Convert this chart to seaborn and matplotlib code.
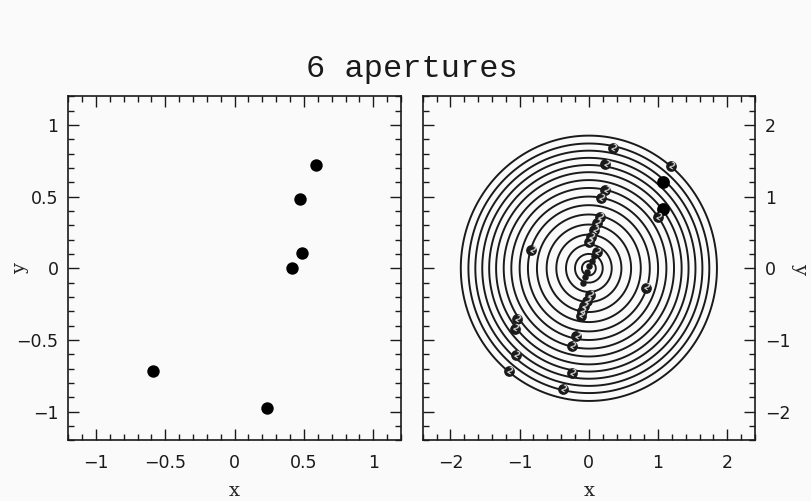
import numpy as np
import pandas as pd
import matplotlib
matplotlib.use("Agg")
import matplotlib.pyplot as plt
from matplotlib.ticker import MultipleLocator, FixedLocator, FixedFormatter
import seaborn as sns

# ---- data -------------------------------------------------------------
# aperture centres (left panel)
ap_x = [0.585, 0.473, 0.483, 0.415, -0.592, 0.234]
ap_y = [0.717, 0.486, 0.107, 0.0, -0.719, -0.974]

# contour levels of the radial map (right panel)
ring_radii = [0.10, 0.20, 0.33, 0.47, 0.61, 0.75, 0.88, 1.00, 1.12,
              1.23, 1.34, 1.44, 1.54, 1.64, 1.74, 1.85]

# contour label positions
lab_x = [0.35, 0.24, 1.18, 1.00, 0.24, 0.18, 0.16, 0.12, 0.08, 0.03, 0.00,
         -0.83, 0.12, 0.82, 0.01, -0.03, -0.07, -0.10, -0.12, -1.04, -1.07,
         -0.18, -0.25, -1.05, -1.16, -0.24, -0.38]
lab_y = [1.68, 1.45, 1.43, 0.72, 1.09, 0.98, 0.72, 0.63, 0.53, 0.44, 0.36,
         0.25, 0.23, -0.27, -0.37, -0.46, -0.53, -0.60, -0.66, -0.71, -0.84,
         -0.95, -1.09, -1.21, -1.43, -1.46, -1.69]
core_x = [0.07, 0.04, 0.00, -0.03, -0.06, -0.09]
core_y = [0.17, 0.10, 0.03, -0.05, -0.12, -0.20]
lab_text = "2"

# filled markers in the map
dot_x = [1.07, 1.07]
dot_y = [1.21, 0.82]

# axis ticks
left_ticks = [-1, -0.5, 0, 0.5, 1]
left_ticklabels = ["\u22121", "\u22120.5", "0", "0.5", "1"]
right_ticks = [-2, -1, 0, 1, 2]
right_ticklabels = ["\u22122", "\u22121", "0", "1", "2"]
title = "6 apertures"

# ---- style ------------------------------------------------------------
bg = "#fafafa"
ink = "#1a1a1a"
sns.set_theme(style="ticks")
plt.rcParams.update({
    "font.family": ["DejaVu Sans"],
    "figure.facecolor": bg,
    "axes.facecolor": bg,
    "axes.edgecolor": ink,
    "axes.linewidth": 1.2,
    "xtick.color": ink,
    "ytick.color": ink,
    "text.color": ink,
})

fig = plt.figure(figsize=(8.12, 5.01), dpi=100)
ax1 = fig.add_axes([0.0841, 0.121, 0.4097, 0.687])
ax2 = fig.add_axes([0.5206, 0.121, 0.4092, 0.687])


def style_axis(ax, ticks, labels, minor, lim, label_right=False):
    ax.set_xlim(-lim, lim)
    ax.set_ylim(-lim, lim)
    for axis in (ax.xaxis, ax.yaxis):
        axis.set_major_locator(FixedLocator(ticks))
        axis.set_major_formatter(FixedFormatter(labels))
        axis.set_minor_locator(MultipleLocator(minor))
    ax.tick_params(which="both", direction="in", top=True, bottom=True,
                   left=True, right=True, width=1.0, colors=ink)
    ax.tick_params(which="major", length=8)
    ax.tick_params(which="minor", length=4)
    ax.tick_params(axis="x", which="major", pad=10, labelsize=12.5)
    ax.tick_params(axis="y", which="major", pad=7, labelsize=12.5)
    if label_right:
        ax.tick_params(axis="y", labelleft=False, labelright=True)
    for s in ax.spines.values():
        s.set_visible(True)
        s.set_linewidth(1.2)


# left panel: aperture positions
df_ap = pd.DataFrame({"x": ap_x, "y": ap_y})
sns.scatterplot(data=df_ap, x="x", y="y", ax=ax1, color="black", s=80,
                edgecolor="black", linewidth=0)
style_axis(ax1, left_ticks, left_ticklabels, 0.1, 1.2)
ax1.set_xlabel("x", family="DejaVu Serif", fontsize=14, va="center")
ax1.xaxis.set_label_coords(0.5, -0.148)
ax1.set_ylabel("y", family="DejaVu Serif", fontsize=14, va="center")
ax1.yaxis.set_label_coords(-0.145, 0.5)

# right panel: radial contour map with labels
g = np.linspace(-2.4, 2.4, 700)
X, Y = np.meshgrid(g, g)
R = np.hypot(X, Y)
ax2.contour(X, Y, R, levels=ring_radii, colors=ink, linewidths=1.4)

df_lab = pd.DataFrame({"x": lab_x, "y": lab_y})
df_core = pd.DataFrame({"x": core_x, "y": core_y})
df_dot = pd.DataFrame({"x": dot_x, "y": dot_y})
sns.scatterplot(data=df_lab, x="x", y="y", ax=ax2, color=ink, s=60,
                linewidth=0, zorder=3)
sns.scatterplot(data=df_core, x="x", y="y", ax=ax2, color=ink, s=22,
                linewidth=0, zorder=3)
sns.scatterplot(data=df_dot, x="x", y="y", ax=ax2, color="black", s=85,
                linewidth=0, zorder=3)
for x, y in zip(lab_x, lab_y):
    ax2.text(x, y, lab_text, color="#d8d8d8", fontsize=5.5,
             fontweight="bold", ha="center", va="center", rotation=-30,
             zorder=4)

style_axis(ax2, right_ticks, right_ticklabels, 0.2, 2.4, label_right=True)
ax2.set_xlabel("x", family="DejaVu Serif", fontsize=14, va="center")
ax2.xaxis.set_label_coords(0.5, -0.148)
ax2.yaxis.set_label_position("right")
ax2.set_ylabel("y", family="DejaVu Serif", fontsize=14, rotation=270,
               va="center")
ax2.yaxis.set_label_coords(1.135, 0.5)

fig.text(0.507, 0.862, title, ha="center", va="center",
         family=["Liberation Mono", "DejaVu Sans Mono"], fontsize=23)

fig.savefig("out.png", dpi=100, facecolor=bg)
